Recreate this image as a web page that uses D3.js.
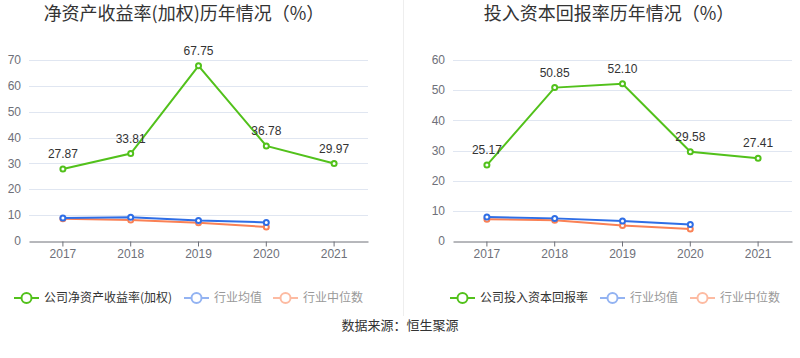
<!DOCTYPE html>
<html><head><meta charset="utf-8">
<script src="https://cdn.jsdelivr.net/npm/d3@7"></script>
<style>
html,body{margin:0;padding:0;background:#fff;}
svg{display:block;font-family:"Liberation Sans","Noto Sans CJK SC",sans-serif;}
.cjk{font-family:"Noto Sans CJK SC","Liberation Sans",sans-serif;}
</style></head>
<body><svg id="c" width="800" height="358"></svg>
<script>
const years = ["2017","2018","2019","2020","2021"];
const roeCompany = [27.87, 33.81, 67.75, 36.78, 29.97];
const roeIndustryAvg = [8.9, 9.2, 7.9, 7.2];
const roeIndustryMedian = [8.6, 8.1, 7.1, 5.4];
const roicCompany = [25.17, 50.85, 52.10, 29.58, 27.41];
const roicIndustryAvg = [7.95, 7.5, 6.6, 5.5];
const roicIndustryMedian = [7.2, 6.9, 5.1, 4.0];
const roeTicks = [0,10,20,30,40,50,60,70];
const roicTicks = [0,10,20,30,40,50,60];
const titles = ["净资产收益率(加权)历年情况（%）", "投入资本回报率历年情况（%）"];
const companyNames = ["公司净资产收益率(加权)", "公司投入资本回报率"];
const avgName = "行业均值", medName = "行业中位数";
const sourceText = "数据来源：恒生聚源";

const GREEN="#52c11b", BLUE="#2f6ee6", ORANGE="#fa8155";
const BLUE_L="#93b3f2", ORANGE_L="#fdbba2";

const svg = d3.select("#c");
svg.append("line").attr("x1",403.5).attr("x2",403.5).attr("y1",0).attr("y2",316).attr("stroke","#eeeeee");

function panel(cfg){
  const g = svg.append("g");
  const x = d3.scaleBand().domain(years).range([cfg.x0, cfg.x1]);
  const y = d3.scaleLinear().domain([0, cfg.max]).range([241, 60]);
  g.append("text").attr("class","cjk").attr("x",cfg.titleX).attr("y",20).attr("text-anchor","middle")
    .attr("font-size",18).attr("fill","#333").text(cfg.title);
  g.selectAll(".grid").data(cfg.ticks.filter(t=>t>0)).join("line")
    .attr("x1",cfg.x0).attr("x2",cfg.x1).attr("y1",d=>Math.round(y(d))+0.5).attr("y2",d=>Math.round(y(d))+0.5)
    .attr("stroke","#e0e6f1");
  g.selectAll(".yl").data(cfg.ticks).join("text")
    .attr("x",cfg.x0-8).attr("y",d=>y(d)).attr("dy","0.35em").attr("text-anchor","end")
    .attr("font-size",12).attr("fill","#6e7079").text(d=>d);
  const ax = d3.axisBottom(x).tickSize(5).tickSizeOuter(0);
  const axg = g.append("g").attr("transform","translate(0,241.5)").call(ax);
  axg.select(".domain").attr("stroke","#6e7079");
  axg.selectAll(".tick line").attr("stroke","#6e7079");
  axg.selectAll(".tick text").attr("fill","#6e7079").attr("font-size",12)
    .attr("font-family","Liberation Sans");
  const cx = (d,i)=>x(years[i])+x.bandwidth()/2;
  const line = d3.line().x(cx).y(d=>y(d));
  function series(vals,color){
    g.append("path").datum(vals).attr("d",line).attr("fill","none").attr("stroke",color).attr("stroke-width",2);
    g.selectAll(null).data(vals).join("circle").attr("cx",cx).attr("cy",d=>y(d)).attr("r",2.5)
      .attr("fill","#fff").attr("stroke",color).attr("stroke-width",2);
  }
  series(cfg.med, ORANGE);
  series(cfg.avg, BLUE);
  series(cfg.comp, GREEN);
  g.selectAll(null).data(cfg.comp).join("text").attr("x",cx).attr("y",d=>y(d)-11)
    .attr("text-anchor","middle").attr("font-size",12).attr("fill","#333").text(d=>d.toFixed(2));
  function leg(xs,color,name,tcolor){
    const lg = g.append("g").attr("transform",`translate(${xs},298)`);
    lg.append("line").attr("x1",0).attr("x2",25).attr("stroke",color).attr("stroke-width",2);
    lg.append("circle").attr("cx",12.5).attr("r",5).attr("fill","#fff").attr("stroke",color).attr("stroke-width",2);
    lg.append("text").attr("class","cjk").attr("x",30).attr("dy","0.35em").attr("font-size",12).attr("fill",tcolor).text(name);
  }
  leg(cfg.leg[0],GREEN,cfg.name,"#333");
  leg(cfg.leg[1],BLUE_L,avgName,"#999");
  leg(cfg.leg[2],ORANGE_L,medName,"#999");
}

panel({x0:29,x1:368,max:70,ticks:roeTicks,title:titles[0],titleX:184,comp:roeCompany,avg:roeIndustryAvg,med:roeIndustryMedian,name:companyNames[0],leg:[14,184,273]});
panel({x0:453,x1:792,max:60,ticks:roicTicks,title:titles[1],titleX:609,comp:roicCompany,avg:roicIndustryAvg,med:roicIndustryMedian,name:companyNames[1],leg:[450,600,690]});

svg.append("text").attr("class","cjk").attr("x",400).attr("y",325).attr("dy","0.35em").attr("text-anchor","middle")
  .attr("font-size",13).attr("fill","#333").text(sourceText);
</script></body></html>
